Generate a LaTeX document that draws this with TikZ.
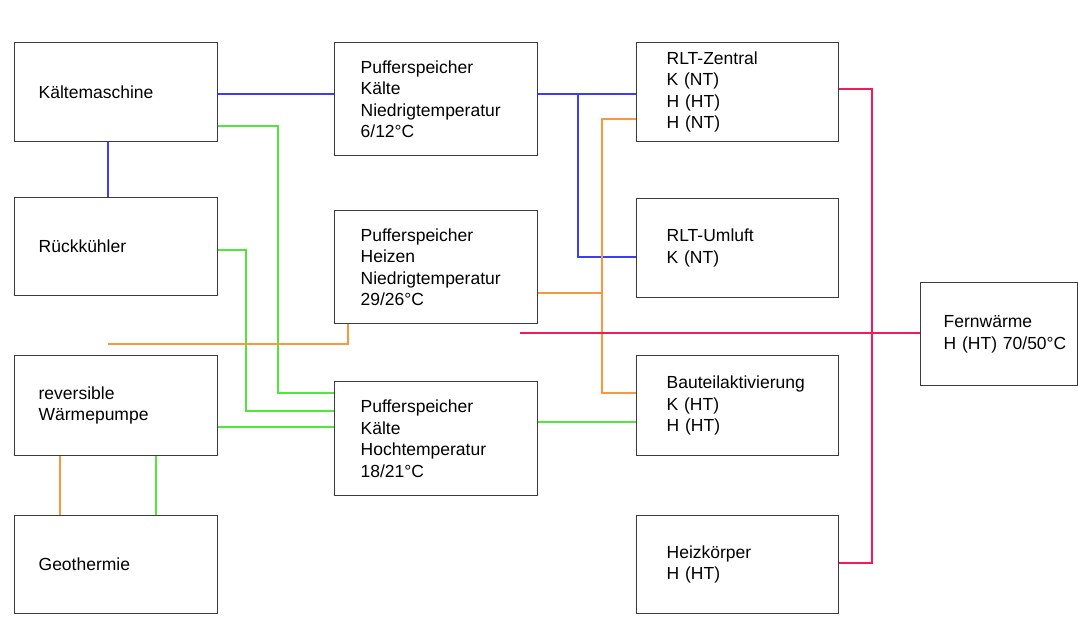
\documentclass[tikz,border=0pt]{standalone}
\usepackage{fontspec}
\setmainfont{Liberation Sans}
\definecolor{boxline}{RGB}{60,60,60}
\definecolor{cblue}{RGB}{60,60,250}
\definecolor{cgreen}{RGB}{80,230,60}
\definecolor{corange}{RGB}{250,150,60}
\definecolor{cred}{RGB}{245,25,85}
\begin{document}
\begin{tikzpicture}[x=1pt,y=-1pt,
  box/.style={draw=boxline, line width=1.3pt, anchor=north west, align=left,
    font=\fontsize{17.5}{21.5}\selectfont, inner ysep=0pt},
  leftbox/.style={box, inner xsep=24pt, text width=155pt, minimum height=#1},
  midbox/.style={box, inner xsep=26pt, text width=151pt, minimum height=#1},
  rightbox/.style={box, inner xsep=30pt, text width=142pt, minimum height=#1},
  pipe/.style={line width=1.2pt},
  bluepipe/.style={pipe, cblue},
  greenpipe/.style={pipe, cgreen},
  orangepipe/.style={pipe, corange},
  redpipe/.style={pipe, cred}]
\useasboundingbox (0,0) rectangle (1078,617);
% left column
\node[leftbox=99pt] (km) at (14,42) {Kältemaschine};
\node[leftbox=98pt] (rk) at (14,197) {Rückkühler};
\node[leftbox=100pt] (wp) at (14,355) {reversible\\Wärmepumpe};
\node[leftbox=98pt] (geo) at (14,515) {Geothermie};
% middle column
\node[midbox=113pt] (pnt) at (334,42) {Pufferspeicher\\Kälte\\Niedrigtemperatur\\6/12°C};
\node[midbox=113pt] (phz) at (334,210) {Pufferspeicher\\Heizen\\Niedrigtemperatur\\29/26°C};
\node[midbox=114pt] (pht) at (334,381) {Pufferspeicher\\Kälte\\Hochtemperatur\\18/21°C};
% right column
\node[rightbox=99pt] (rz) at (636,42) {RLT-Zentral\\K (NT)\\H (HT)\\H (NT)};
\node[rightbox=99pt] (ru) at (636,198) {RLT-Umluft\\K (NT)};
\node[rightbox=100pt] (ba) at (636,355) {Bauteilaktivierung\\K (HT)\\H (HT)};
\node[rightbox=98pt] (hk) at (636,515) {Heizkörper\\H (HT)};
% Fernwaerme
\node[box, inner xsep=23pt, text width=111pt, minimum height=103pt] (fw) at (920,282) {Fernwärme\\\mbox{H (HT) 70/50°C}};
% junctions / free ends
\coordinate (j1) at (578,94);
\coordinate (o1) at (108,344);
\coordinate (r1) at (520,333);
% blue
\draw[bluepipe] (km.east |- 0,94) -- (pnt.west |- 0,94);
\draw[bluepipe] (pnt.east |- 0,94) -- (rz.west |- 0,94);
\draw[bluepipe] (j1) -- (578,257) -- (ru.west |- 0,257);
\draw[bluepipe] (108,0 |- km.south) -- (108,0 |- rk.north);
% green
\draw[greenpipe] (km.east |- 0,126) -- (278,126) -- (278,393) -- (pht.west |- 0,393);
\draw[greenpipe] (rk.east |- 0,250) -- (246,250) -- (246,411) -- (pht.west |- 0,411);
\draw[greenpipe] (wp.east |- 0,427) -- (pht.west |- 0,427);
\draw[greenpipe] (pht.east |- 0,422) -- (ba.west |- 0,422);
\draw[greenpipe] (156,0 |- wp.south) -- (156,0 |- geo.north);
% orange
\draw[orangepipe] (60,0 |- wp.south) -- (60,0 |- geo.north);
\draw[orangepipe] (o1) -- (348,344) -- (348,0 |- phz.south);
\draw[orangepipe] (phz.east |- 0,293) -- (602,293);
\draw[orangepipe] (rz.west |- 0,119) -- (602,119) -- (602,393) -- (ba.west |- 0,393);
% red
\draw[redpipe] (fw.west |- 0,333) -- (r1);
\draw[redpipe] (rz.east |- 0,89) -- (872,89) -- (872,563) -- (hk.east |- 0,563);
\end{tikzpicture}
\end{document}
